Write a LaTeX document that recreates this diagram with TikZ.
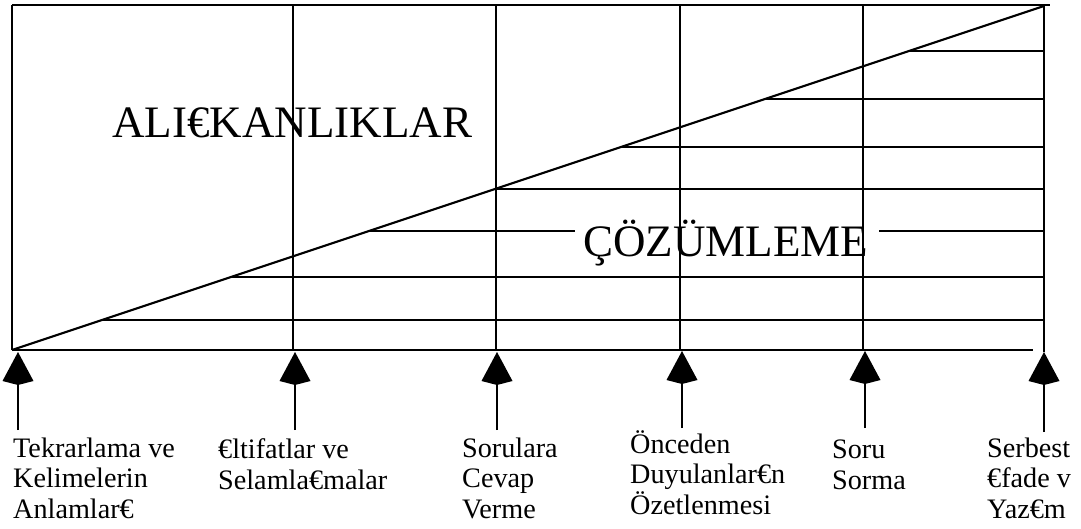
\documentclass[tikz,border=0pt]{standalone}
\usepackage{fontspec}
\setmainfont{Liberation Serif}
\usetikzlibrary{arrows.meta, positioning}

\begin{document}
\begin{tikzpicture}[
    x=1pt, y=-1pt,
    ln/.style={line width=2.2pt, black},
    up/.style={line width=2.2pt, black, -{Kite[length=33pt, width=31pt, inset=4pt]}},
    lbl/.style={anchor=base west, inner sep=0pt, align=left, font=\fontsize{28.2}{30.5}\selectfont},
    big/.style={anchor=base west, inner sep=0pt, font=\fontsize{45}{50}\selectfont}
  ]
  \useasboundingbox (0,0) rectangle (1081,529);

  % frame
  \draw[ln] (12,5) -- (1050,5);
  \draw[ln] (12,5) -- (12,350);
  \draw[ln] (12,350) -- (1033,350);
  \draw[ln] (1044,5) -- (1044,352);
  \draw[ln] (293,5) -- (293,350);
  \draw[ln] (496,5) -- (496,350);
  \draw[ln] (680,5) -- (680,350);
  \draw[ln] (863,5) -- (863,350);

  % diagonal and the lines under it
  \draw[ln] (12,350) -- (1044,6);
  \draw[ln] (909,51) -- (1044,51);
  \draw[ln] (765,99) -- (1044,99);
  \draw[ln] (621,147) -- (1044,147);
  \draw[ln] (495,189) -- (1044,189);
  \draw[ln] (369,231) -- (575,231);
  \draw[ln] (879,231) -- (1044,231);
  \draw[ln] (231,277) -- (1044,277);
  \draw[ln] (102,320) -- (1044,320);

  \node[big] (alis) at (112,138) {ALI€KANLIKLAR};
  \node[big] (coz) at (583,257) {ÇÖZÜMLEME};

  % arrows
  \coordinate (s1) at (18,430);   \coordinate (h1) at (18,352);
  \coordinate (s2) at (295,430);  \coordinate (h2) at (295,352);
  \coordinate (s3) at (497,430);  \coordinate (h3) at (497,352);
  \coordinate (s4) at (682,428);  \coordinate (h4) at (682,351);
  \coordinate (s5) at (865,428);  \coordinate (h5) at (865,351);
  \coordinate (s6) at (1044,432); \coordinate (h6) at (1044,352);
  \draw[up] (s1) -- (h1);
  \draw[up] (s2) -- (h2);
  \draw[up] (s3) -- (h3);
  \draw[up] (s4) -- (h4);
  \draw[up] (s5) -- (h5);
  \draw[up] (s6) -- (h6);

  % labels (base = last line)
  \node[lbl] (tek) at (13,518) {Tekrarlama ve\\Kelimelerin\\Anlamlar€};
  \node[lbl] (ilt) at (218,489) {€ltifatlar ve\\Selamla€malar};
  \node[lbl] (sor) at (462,518) {Sorulara\\Cevap\\Verme};
  \node[lbl] (onc) at (630,514) {Önceden\\Duyulanlar€n\\Özetlenmesi};
  \node[lbl] (sorma) at (832,489) {Soru\\Sorma};
  \node[lbl] (ser) at (987,518) {Serbest\\€fade v\\Yaz€m};
\end{tikzpicture}
\end{document}
